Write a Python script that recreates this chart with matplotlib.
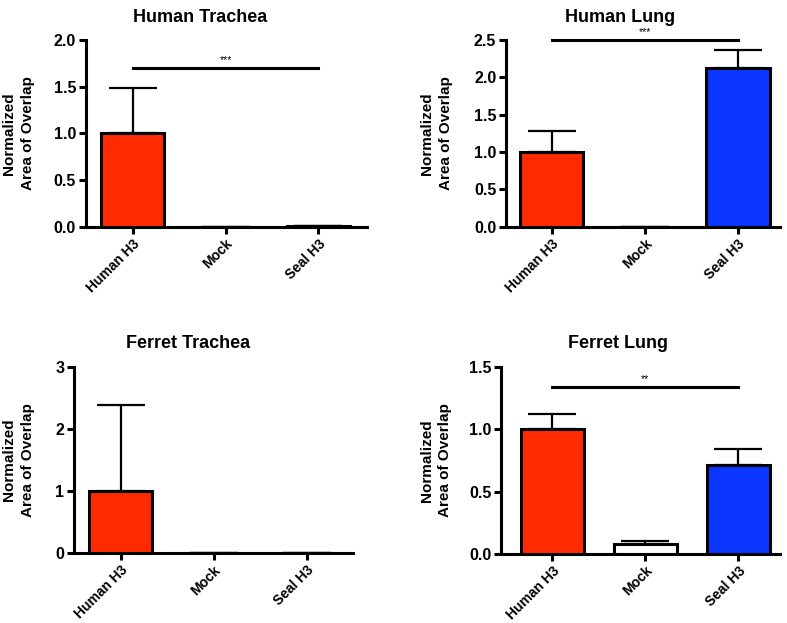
import matplotlib
matplotlib.use("Agg")
import matplotlib.pyplot as plt
import numpy as np

plt.rcParams['font.family'] = ['Liberation Sans', 'DejaVu Sans']
plt.rcParams['font.weight'] = 'bold'

groups = ["Human H3", "Mock", "Seal H3"]
colors = ["#FF2A00", "#FFFFFF", "#0A36FF"]

titles = ["Human Trachea", "Human Lung", "Ferret Trachea", "Ferret Lung"]
means = [
    [1.0, 0.0, 0.005],
    [1.0, 0.0, 2.12],
    [1.0, 0.0, 0.0],
    [1.0, 0.08, 0.71],
]
errs = [
    [0.49, 0.0, 0.0],
    [0.28, 0.0, 0.24],
    [1.39, 0.0, 0.0],
    [0.12, 0.02, 0.13],
]
yticks = [
    [0.0, 0.5, 1.0, 1.5, 2.0],
    [0.0, 0.5, 1.0, 1.5, 2.0, 2.5],
    [0, 1, 2, 3],
    [0.0, 0.5, 1.0, 1.5],
]
ytick_fmt = ["{:.1f}", "{:.1f}", "{:d}", "{:.1f}"]
sig_y = [1.7, 2.5, None, 1.34]
sig_txt = ["***", "***", None, "**"]

# layout in figure fractions (axes rect), title pos, ylabel pos
rects = [
    [0.109, 0.636, 0.357, 0.300],
    [0.643, 0.636, 0.348, 0.300],
    [0.094, 0.112, 0.355, 0.299],
    [0.637, 0.111, 0.354, 0.300],
]
xlims = [(-0.505, 2.52), (-0.49, 2.45), (-0.5, 2.5), (-0.55, 2.45)]
title_pos = [(0.254, 0.986), (0.788, 0.986), (0.239, 0.463), (0.785, 0.463)]
ylab_x = [0.023, 0.555, 0.023, 0.554]

fig = plt.figure(figsize=(7.87, 6.23), dpi=100)

for i in range(4):
    ax = fig.add_axes(rects[i])
    x = np.arange(len(groups))
    err = errs[i]
    ax.errorbar(x, means[i], yerr=[np.zeros(3), err], fmt='none', ecolor='black',
                elinewidth=1.6, capsize=17, capthick=1.6, zorder=2)
    ax.bar(x, means[i], width=0.68, color=colors, edgecolor='black', linewidth=2.2, zorder=3)
    ax.set_xlim(*xlims[i])
    ax.set_ylim(0, yticks[i][-1])
    ax.set_yticks(yticks[i])
    ax.set_yticklabels([ytick_fmt[i].format(t) for t in yticks[i]], fontsize=11.5, fontweight='bold')
    ax.set_xticks(x)
    ax.set_xticklabels(groups, rotation=45, ha='right', rotation_mode='anchor', fontsize=10, fontweight='bold')
    for s in ['top', 'right']:
        ax.spines[s].set_visible(False)
    for s in ['left', 'bottom']:
        ax.spines[s].set_linewidth(2.2)
    ax.spines['left'].set_bounds(0, yticks[i][-1])
    ax.tick_params(width=2.2, length=5, direction='out', pad=2)
    if sig_y[i] is not None:
        ax.plot([0, 2], [sig_y[i], sig_y[i]], color='black', lw=2.2, clip_on=False, zorder=4)
        ax.text(1, sig_y[i] + yticks[i][-1] * 0.015, sig_txt[i], ha='center', va='bottom',
                fontsize=7.5, fontweight='normal')
    fig.text(title_pos[i][0], title_pos[i][1], titles[i], ha='center', va='top',
             fontsize=13, fontweight='bold')
    ycen = rects[i][1] + rects[i][3] * 0.5
    fig.text(ylab_x[i], ycen, "Normalized\nArea of Overlap", rotation=90, ha='center', va='center',
             fontsize=11, fontweight='bold', linespacing=1.45)

fig.savefig("out.png", dpi=100)
